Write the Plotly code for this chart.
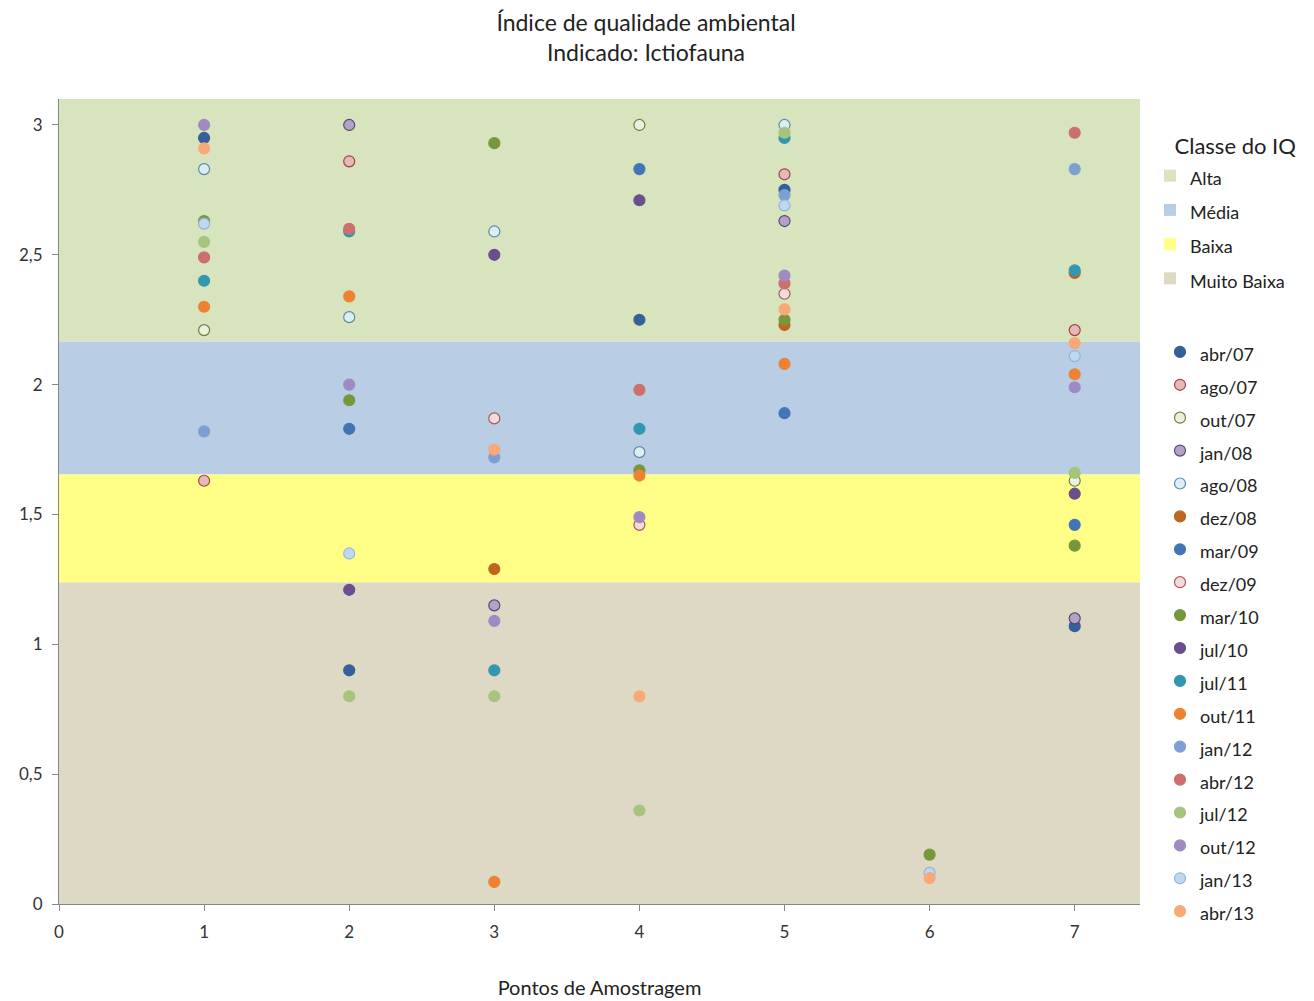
import plotly.graph_objects as go

points = [1, 2, 3, 4, 5, 6, 7]

series_names = ["abr/07", "ago/07", "out/07", "jan/08", "ago/08", "dez/08", "mar/09", "dez/09",
                "mar/10", "jul/10", "jul/11", "out/11", "jan/12", "abr/12", "jul/12", "out/12",
                "jan/13", "abr/13"]

abr07 = [2.95, 0.90, None, 2.25, 2.75, None, 1.07]
ago07 = [1.63, 2.86, None, None, 2.81, None, 2.21]
out07 = [2.21, None, None, 3.00, None, None, 1.63]
jan08 = [None, 3.00, 1.15, None, 2.63, None, 1.10]
ago08 = [2.83, 2.26, 2.59, 1.74, 3.00, None, None]
dez08 = [None, None, 1.29, None, 2.23, None, 2.43]
mar09 = [None, 1.83, None, 2.83, 1.89, None, 1.46]
dez09 = [None, None, 1.87, 1.46, 2.35, None, None]
mar10 = [2.63, 1.94, 2.93, 1.67, 2.25, 0.19, 1.38]
jul10 = [None, 1.21, 2.50, 2.71, None, None, 1.58]
jul11 = [2.40, 2.59, 0.90, 1.83, 2.95, None, 2.44]
out11 = [2.30, 2.34, 0.085, 1.65, 2.08, None, 2.04]
jan12 = [1.82, None, 1.72, None, 2.73, None, 2.83]
abr12 = [2.49, 2.60, None, 1.98, 2.39, None, 2.97]
jul12 = [2.55, 0.80, 0.80, 0.36, 2.97, None, 1.66]
out12 = [3.00, 2.00, 1.09, 1.49, 2.42, None, 1.99]
jan13 = [2.62, 1.35, None, None, 2.69, 0.12, 2.11]
abr13 = [2.91, None, 1.75, 0.80, 2.29, 0.10, 2.16]

series_values = [abr07, ago07, out07, jan08, ago08, dez08, mar09, dez09, mar10, jul10,
                 jul11, out11, jan12, abr12, jul12, out12, jan13, abr13]

class_names = ["Alta", "Média", "Baixa", "Muito Baixa"]
class_lower = [2.165, 1.654, 1.238, 0.0]
class_upper = [3.1, 2.165, 1.654, 1.238]
class_colors = ["#D7E4BD", "#B9CDE5", "#FFFF88", "#DDD9C4"]

y_ticks = [0, 0.5, 1, 1.5, 2, 2.5, 3]
y_ticktext = ["0", "0,5", "1", "1,5", "2", "2,5", "3"]

fills = ["#35609A", "#E6B9B8", "#EBF1DE", "#B3A2C7", "#DBEEF4", "#C0651E", "#4275B5", "#F2DCDB",
         "#77973C", "#6A4E8E", "#3497B2", "#EE8232", "#7E9FD2", "#CC6F6D", "#A7C47D", "#A08AC4",
         "#BFD8F0", "#F9A878"]
lines = ["#35609A", "#A04441", "#6E7F3F", "#5A4775", "#5C8CA8", "#C0651E", "#4275B5", "#A85A57",
         "#77973C", "#6A4E8E", "#3497B2", "#EE8232", "#7E9FD2", "#CC6F6D", "#A7C47D", "#A08AC4",
         "#8FB6DE", "#F9A878"]

font_family = "Lato, 'Open Sans', sans-serif"

def lbl(t):
    return '<span style="font-size:18px">' + t + '</span>'

fig = go.Figure()

for name, lo, hi, col in zip(class_names, class_lower, class_upper, class_colors):
    fig.add_shape(type="rect", xref="paper", yref="y", x0=0, x1=1, y0=lo, y1=hi,
                  fillcolor=col, line=dict(width=0), layer="below")
    fig.add_trace(go.Scatter(x=[None], y=[None], mode="markers", name=lbl(name),
                             marker=dict(symbol="square", size=16, color=col),
                             legend="legend"))

for name, vals, fc, lc in zip(series_names, series_values, fills, lines):
    fig.add_trace(go.Scatter(x=points, y=vals, mode="markers", name=lbl(name),
                             marker=dict(size=11, color=fc, line=dict(color=lc, width=1.2)),
                             legend="legend2"))

fig.update_layout(
    width=1306, height=993,
    margin=dict(l=51, r=174, t=91, b=97, autoexpand=False),
    paper_bgcolor="white", plot_bgcolor="white",
    font=dict(family=font_family, size=18, color="#222222"),
    title=dict(text="Índice de qualidade ambiental<br>Indicado: Ictiofauna",
               x=0.4885, xanchor="center", xref="container",
               y=1 - 23 / 993, yanchor="middle", yref="container",
               font=dict(size=23, color="#222222")),
    xaxis=dict(range=[0, 7.45], tickmode="array", tickvals=[0, 1, 2, 3, 4, 5, 6, 7],
               showgrid=False, zeroline=False, showline=True, linecolor="#888888", linewidth=1,
               ticks="outside", ticklen=6, tickcolor="#888888", ticklabelstandoff=7,
               tickfont=dict(size=17, color="#333333"),
               title=dict(text="Pontos de Amostragem", font=dict(size=20, color="#222222"), standoff=39)),
    yaxis=dict(range=[0, 3.1], tickmode="array", tickvals=y_ticks, ticktext=y_ticktext,
               showgrid=False, zeroline=False, showline=True, linecolor="#888888", linewidth=1,
               ticks="outside", ticklen=6, tickcolor="#888888", ticklabelstandoff=6,
               tickfont=dict(size=17, color="#333333")),
    legend=dict(x=0.00925 + 1.0, xref="paper", y=0.9677, yanchor="top", xanchor="left",
                title=dict(text="&nbsp;&nbsp;&nbsp;&nbsp;Classe do IQ", font=dict(size=22)),
                font=dict(size=24), bgcolor="rgba(0,0,0,0)", itemsizing="constant"),
    legend2=dict(x=1.0185, xref="paper", y=0.7125, yanchor="top", xanchor="left",
                 font=dict(size=23), bgcolor="rgba(0,0,0,0)", tracegroupgap=0),
)

fig.write_html("out.html")
